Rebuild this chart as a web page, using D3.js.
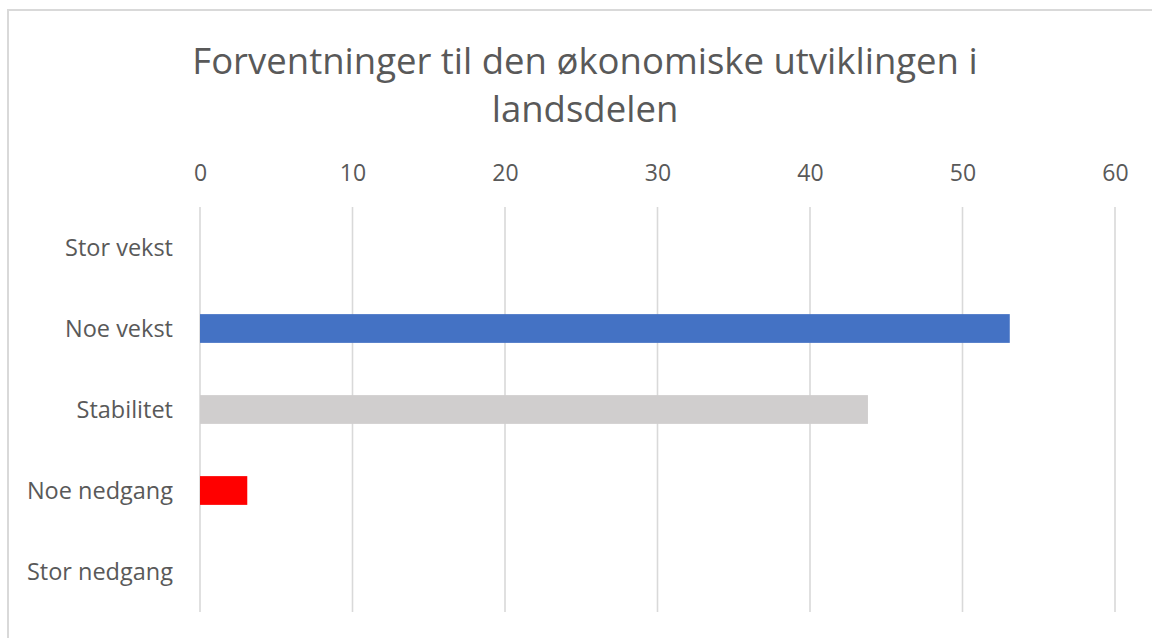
<!DOCTYPE html>
<meta charset="utf-8">
<style>
body {
  margin: 0;
  background: #fff;
  overflow: hidden;
}
text {
  font-family: "Open Sans", sans-serif;
  fill: #595959;
}
</style>
<script src="https://cdnjs.cloudflare.com/ajax/libs/d3/7.8.5/d3.min.js"></script>
<body></body>
<script>

var width = 1152;
var height = 638;

// data
var categories = ['Stor vekst', 'Noe vekst', 'Stabilitet', 'Noe nedgang', 'Stor nedgang'];
var values = [0, 53.1, 43.8, 3.1, 0];
var barColors = ['#4472C4', '#4472C4', '#D0CECE', '#FF0000', '#FF0000'];
var tickValues = [0, 10, 20, 30, 40, 50, 60];
var titleLines = ['Forventninger til den økonomiske utviklingen i', 'landsdelen'];

var plot = { left: 200, right: 1115, top: 207, bottom: 612 };

var svg = d3.select('body').append('svg')
  .attr('width', width)
  .attr('height', height);

// chart border, runs off the right and bottom edge
svg.append('rect')
  .attr('x', 8)
  .attr('y', 10)
  .attr('width', 1170)
  .attr('height', 660)
  .attr('fill', '#fff')
  .attr('stroke', '#D9D9D9')
  .attr('stroke-width', 2);

// title
svg.append('g')
  .selectAll('text')
  .data(titleLines)
  .enter().append('text')
  .attr('x', 585)
  .attr('y', (d, i) => 74 + i * 48)
  .attr('text-anchor', 'middle')
  .style('font-size', '36.5px')
  .text(d => d);

var x = d3.scaleLinear()
  .domain([0, 60])
  .range([plot.left, plot.right]);

var y = d3.scaleBand()
  .domain(categories)
  .range([plot.top, plot.bottom])
  .paddingInner(0.645)
  .paddingOuter(0.3225);

var band = d3.scaleBand()
  .domain(categories)
  .range([plot.top, plot.bottom]);

// gridlines
svg.append('g')
  .selectAll('line')
  .data(tickValues)
  .enter().append('line')
  .attr('x1', d => x(d))
  .attr('x2', d => x(d))
  .attr('y1', plot.top)
  .attr('y2', plot.bottom)
  .attr('stroke', '#D9D9D9')
  .attr('stroke-width', 1.6);

// top axis labels
var xAxis = d3.axisTop(x)
  .tickValues(tickValues)
  .tickSize(0)
  .tickPadding(0);

var gx = svg.append('g')
  .attr('transform', 'translate(0,181)')
  .call(xAxis);
gx.select('.domain').remove();
gx.selectAll('text')
  .attr('dy', 0)
  .style('font-size', '23px')
  .style('font-family', '"Open Sans", sans-serif')
  .attr('fill', '#595959');

// bars
svg.append('g')
  .selectAll('rect')
  .data(values)
  .enter().append('rect')
  .attr('x', x(0))
  .attr('y', (d, i) => y(categories[i]))
  .attr('width', d => x(d) - x(0))
  .attr('height', y.bandwidth())
  .attr('fill', (d, i) => barColors[i]);

// category labels
svg.append('g')
  .selectAll('text')
  .data(categories)
  .enter().append('text')
  .attr('x', 173)
  .attr('y', d => band(d) + band.bandwidth() / 2)
  .attr('dy', '0.35em')
  .attr('text-anchor', 'end')
  .style('font-size', '23.5px')
  .text(d => d);

</script>
